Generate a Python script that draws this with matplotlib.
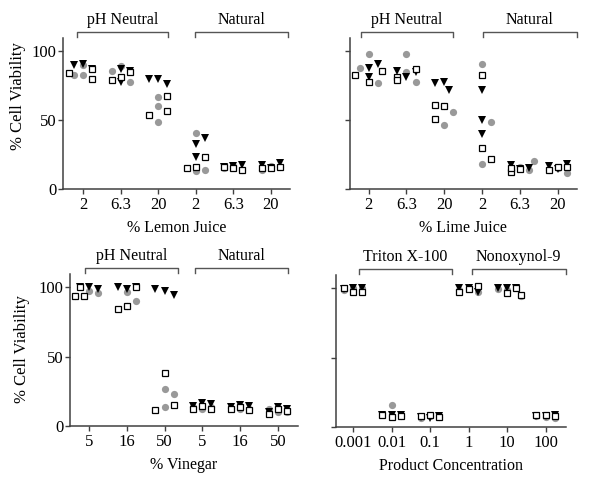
import matplotlib
matplotlib.use("Agg")
import matplotlib.pyplot as plt

plt.rcParams['font.family'] = ['Liberation Serif', 'DejaVu Serif']

# values, 3 replicates per category
# series: black triangles, grey circles, open squares

lemon_labels = ["2", "6.3", "20", "2", "6.3", "20"]
lemon_tri = [[91, 87, 90], [87, 86, 78], [80, 76, 80], [33, 37, 23], [17, 17.5, 16], [15, 19, 17.6]]
lemon_circ = [[83, 90, 83], [86, 89, 77.5], [67, 60, 49], [41, 13, 14], [16.6, 14, 15], [16.6, 15.7, 14]]
lemon_sq = [[80, 84, 87], [79, 85, 81], [67.6, 57, 53.6], [23.4, 15, 16], [15, 14, 16], [15, 16.3, 15]]

lime_labels = ["2", "6.3", "20", "2", "6.3", "20"]
lime_tri = [[81, 88, 91], [81, 84.7, 85.6], [77.6, 72, 77], [71.8, 49.9, 40], [14.4, 15, 17.5], [14.4, 18.2, 17]]
lime_circ = [[98, 88, 77], [97.8, 85, 77.6], [60, 56, 46.7], [90.5, 48.4, 18], [16.3, 20.4, 13.9], [15, 11.7, 14]]
lime_sq = [[85.5, 82.5, 77.4], [86.9, 81, 79], [61, 60.6, 51], [83, 29.7, 21.7], [12.6, 14.4, 15.6], [16.3, 16.3, 14]]

vinegar_labels = ["5", "16", "50", "5", "16", "50"]
vinegar_tri = [[100, 99, 100], [99, 100, 100.5], [97, 94.4, 98.8], [16.7, 15.8, 14.3], [15, 14.6, 13.8], [13.8, 12.6, 10.2]]
vinegar_circ = [[97, 96, 94], [86.6, 96.4, 90], [27, 22.8, 13.8], [12.6, 13.8, 13.8], [11.9, 12.6, 13], [10.2, 10.2, 11.9]]
vinegar_sq = [[94, 100, 94], [84, 100, 86.6], [38, 15, 11.4], [14.6, 12, 12], [13.8, 11.4, 11.9], [12.6, 10.7, 9]]

product_labels = ["0.001", "0.01", "0.1", "1", "10", "100"]
product_tri = [[100.5, 100, 99.5], [8.9, 8.4, 8.4], [6.5, 7.7, 7], [100.5, 97.4, 100.5], [100.5, 100.5, 100.5], [7.7, 8.4, 8]]
product_circ = [[100, 100, 99], [7.7, 16, 7.7], [7.7, 7, 6.5], [100, 97, 98.8], [98.8, 94.7, 99.5], [7.5, 6.5, 7.7]]
product_sq = [[97, 97.6, 100], [8.4, 7.2, 8], [8.9, 7, 7.7], [99.3, 101.7, 97], [96.4, 100.5, 95.2], [8.4, 7.7, 8.9]]

AXC = "#404040"


def swarm(points, ppu_x=37.7, ppu_y=1.38, diam=8.5, step=0.12):
    # simple beeswarm: spread points sideways when they collide
    placed = []
    cands = [0, 1, -1, 2, -2, 3, -3]
    for s, v in points:
        best = None
        best_hits = None
        for k in cands:
            x = k * step
            hits = sum(1 for px, py, _ in placed
                       if ((x - px) * ppu_x) ** 2 + ((v - py) * ppu_y) ** 2 < diam ** 2)
            if hits == 0:
                best = x
                break
            if best_hits is None or hits < best_hits:
                best_hits = hits
                best = x
        placed.append((best, v, s))
    return placed


def draw_panel(ax, tri, circ, sq, labels, xlabel, xlim, groups, ylab):
    for i in range(len(labels)):
        pts = [("t", v) for v in tri[i]] + [("c", v) for v in circ[i]] + [("s", v) for v in sq[i]]
        for dx, v, s in swarm(pts):
            if s == "c":
                ax.plot(i + dx, v, "o", color="#999999", ms=5.2, mew=0, zorder=3)
            elif s == "t":
                ax.plot(i + dx, v, "v", color="black", ms=5.5, mew=0, zorder=4)
            else:
                ax.plot(i + dx, v, "s", mfc="white", mec="black", ms=5, mew=0.9, zorder=5)
    ax.set_xlim(*xlim)
    ax.set_ylim(0, 109.5)
    ax.set_xticks(range(len(labels)))
    ax.set_xticklabels(labels)
    ax.set_yticks([0, 50, 100])
    if not ylab:
        ax.set_yticklabels([])
    for sp in ["top", "right"]:
        ax.spines[sp].set_visible(False)
    for sp in ["left", "bottom"]:
        ax.spines[sp].set_color(AXC)
        ax.spines[sp].set_linewidth(1.1)
    ax.tick_params(axis="both", direction="out", length=3.6, width=1, colors=AXC,
                   labelcolor="black", labelsize=12)
    ax.tick_params(axis="x", pad=2)
    ax.tick_params(axis="y", pad=1)
    ax.set_xlabel(xlabel, fontsize=11.5, labelpad=5)
    for name, lo, hi in groups:
        ax.plot([lo, lo, hi, hi], [110.5, 114, 114, 110.5], color="#555555", lw=1,
                clip_on=False)
        ax.text((lo + hi) / 2, 116.5, name, ha="center", va="bottom", fontsize=11.5)


fig = plt.figure(figsize=(6, 4.95), dpi=100)

ax1 = fig.add_axes([0.105, 0.618, 0.378, 0.305])
draw_panel(ax1, lemon_tri, lemon_circ, lemon_sq, lemon_labels, "% Lemon Juice",
           (-0.53, 5.5), [("pH Neutral", -0.16, 2.26), ("Natural", 2.98, 5.45)], True)

ax2 = fig.add_axes([0.583, 0.618, 0.378, 0.305])
draw_panel(ax2, lime_tri, lime_circ, lime_sq, lime_labels, "% Lime Juice",
           (-0.5, 5.5), [("pH Neutral", -0.21, 2.22), ("Natural", 3.02, 5.5)], False)

ax3 = fig.add_axes([0.1167, 0.1394, 0.38, 0.307])
draw_panel(ax3, vinegar_tri, vinegar_circ, vinegar_sq, vinegar_labels, "% Vinegar",
           (-0.5, 5.53), [("pH Neutral", -0.1, 2.35), ("Natural", 2.8, 5.26)], True)

ax4 = fig.add_axes([0.56, 0.1374, 0.383, 0.307])
draw_panel(ax4, product_tri, product_circ, product_sq, product_labels, "Product Concentration",
           (-0.44, 5.52), [("Triton X-100", 0.16, 2.56), ("Nonoxynol-9", 3.08, 5.52)], False)

fig.text(18 / 600, 1 - 96 / 495, "% Cell Viability", rotation=90, ha="center", va="center",
         fontsize=12)
fig.text(22 / 600, 1 - 349 / 495, "% Cell Viability", rotation=90, ha="center", va="center",
         fontsize=12)

fig.savefig("out.png", dpi=100)
